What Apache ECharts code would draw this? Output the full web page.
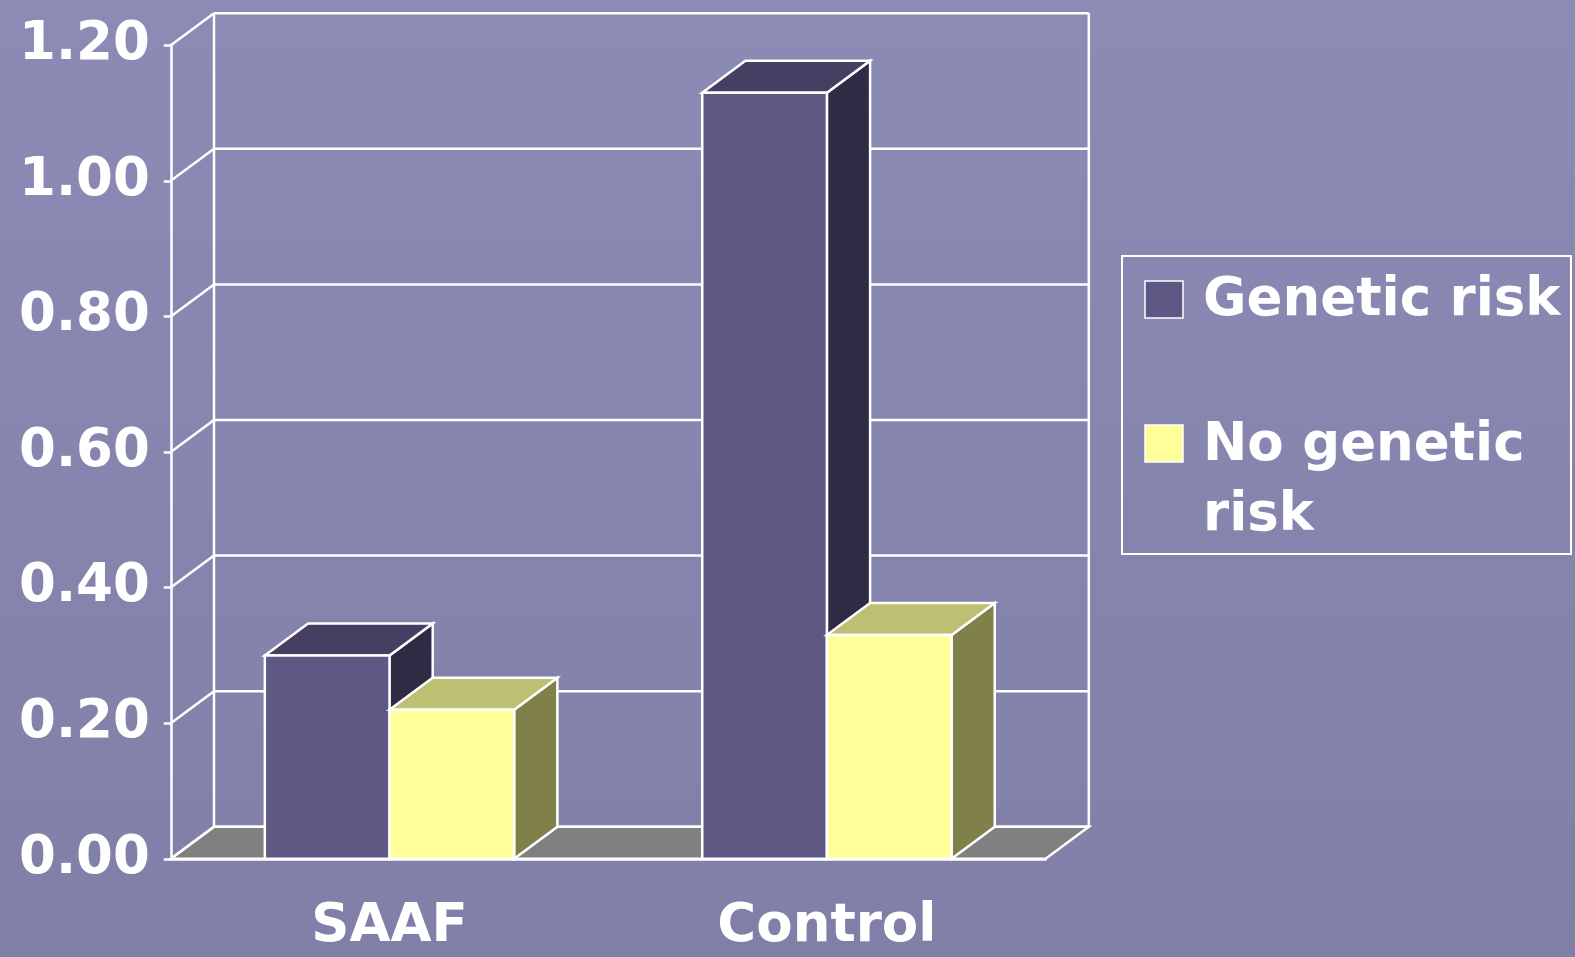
<!DOCTYPE html>
<html>
<head>
<meta charset="utf-8">
<script src="https://cdn.jsdelivr.net/npm/echarts@6/dist/echarts.min.js"></script>
<style>
  html, body { margin: 0; padding: 0; background: #8787b0; }
  #chart { width: 1575px; height: 957px; }
</style>
</head>
<body>
<div id="chart"></div>
<script>
// Categories, series and axis ticks
const categories = ['SAAF', 'Control'];
const seriesNames = ['Genetic risk', 'No genetic\nrisk'];
const geneticRisk = [0.30, 1.13];
const noGeneticRisk = [0.22, 0.33];
const yTicks = [0, 0.2, 0.4, 0.6, 0.8, 1.0, 1.2];

// Pseudo-3D depth of the box (pixels to the right and upward)
const DX = 43.2, DY = 32;
// Bar width as a fraction of a category band
const BAR_FRAC = 0.285;
const FONT = 'DejaVu Sans';

const palettes = [
  { front: '#5e5885', top: '#463f63', side: '#2f2b45' },
  { front: '#ffff99', top: '#bfbf73', side: '#80804a' }
];
const edge = { stroke: '#ffffff', lineWidth: 2.5, lineJoin: 'miter' };

// Back wall, floor and depth lines for every y tick
function frameRenderer(params, api) {
  const cs = params.coordSys;
  const v = api.value(1);
  const y = api.coord([0, v])[1];
  const xl = cs.x, xr = cs.x + cs.width;
  const children = [];
  if (params.dataIndex === 0) {
    const yTop = api.coord([0, yTicks[yTicks.length - 1]])[1];
    children.push({
      type: 'polygon',
      shape: { points: [[xl, y], [xr, y], [xr + DX, y - DY], [xl + DX, y - DY]] },
      style: { fill: '#808080', stroke: '#ffffff', lineWidth: 2.5 }
    });
    children.push({ type: 'line', shape: { x1: xl + DX, y1: yTop - DY, x2: xl + DX, y2: y - DY }, style: edge });
    children.push({ type: 'line', shape: { x1: xr + DX, y1: yTop - DY, x2: xr + DX, y2: y - DY }, style: edge });
  }
  children.push({ type: 'line', shape: { x1: xl, y1: y, x2: xl + DX, y2: y - DY }, style: edge });
  children.push({ type: 'line', shape: { x1: xl + DX, y1: y - DY, x2: xr + DX, y2: y - DY }, style: edge });
  return { type: 'group', children: children };
}

// Box-shaped bar: side face, top face, then front face
function barRenderer(idx) {
  return function (params, api) {
    const cat = api.value(0), val = api.value(1);
    const top = api.coord([cat, val]);
    const base = api.coord([cat, 0]);
    const band = api.size([1, 0])[0];
    const w = band * BAR_FRAC;
    const x0 = idx === 0 ? top[0] - w : top[0];
    const x1 = x0 + w;
    const yT = top[1], yB = base[1];
    const pal = palettes[idx];
    return {
      type: 'group',
      children: [
        { type: 'polygon', shape: { points: [[x1, yB], [x1 + DX, yB - DY], [x1 + DX, yT - DY], [x1, yT]] },
          style: Object.assign({ fill: pal.side }, edge) },
        { type: 'polygon', shape: { points: [[x0, yT], [x1, yT], [x1 + DX, yT - DY], [x0 + DX, yT - DY]] },
          style: Object.assign({ fill: pal.top }, edge) },
        { type: 'rect', shape: { x: x0, y: yT, width: w, height: yB - yT },
          style: Object.assign({ fill: pal.front }, edge) }
      ]
    };
  };
}

// Legend panel
const legendBox = { x: 1122, y: 256, w: 449, h: 298 };
const legendItems = [
  { sx: 1145, sy: 281, tx: 1203, ty: 301 },
  { sx: 1145, sy: 425, tx: 1203, ty: 481 }
];
const legendGraphics = [{
  type: 'rect',
  shape: { x: legendBox.x, y: legendBox.y, width: legendBox.w, height: legendBox.h },
  style: { fill: 'none', stroke: '#ffffff', lineWidth: 2 }
}];
seriesNames.forEach(function (name, i) {
  const it = legendItems[i];
  legendGraphics.push({
    type: 'rect', shape: { x: it.sx, y: it.sy, width: 38, height: 37 },
    style: { fill: palettes[i].front, stroke: '#ffffff', lineWidth: 1.5 }
  });
  legendGraphics.push({
    type: 'text', x: it.tx, y: it.ty,
    style: { text: name, fill: '#ffffff', font: 'bold 53px "' + FONT + '"',
             verticalAlign: 'middle', align: 'left', lineHeight: 70 }
  });
});

const chart = echarts.init(document.getElementById('chart'), null, { renderer: 'canvas' });
chart.setOption({
  backgroundColor: {
    type: 'linear', x: 0, y: 0, x2: 0, y2: 1,
    colorStops: [{ offset: 0, color: '#8b8bb5' }, { offset: 1, color: '#7f7fa8' }]
  },
  animation: false,
  grid: { left: 170.8, top: 45.2, width: 874.8, height: 813.6, outerBoundsMode: 'none' },
  xAxis: {
    type: 'category',
    data: categories,
    axisLine: { lineStyle: { color: '#ffffff', width: 2.5 } },
    axisTick: { length: 13, lineStyle: { color: '#ffffff', width: 2.5 } },
    axisLabel: { color: '#ffffff', fontSize: 53, fontWeight: 'bold', fontFamily: FONT, margin: 42, lineHeight: 53 },
    splitLine: { show: false }
  },
  yAxis: {
    type: 'value',
    min: yTicks[0],
    max: yTicks[yTicks.length - 1],
    interval: 0.2,
    axisLine: { show: true, lineStyle: { color: '#ffffff', width: 2.5 } },
    axisTick: { show: true, length: 7, lineStyle: { color: '#ffffff', width: 2.5 } },
    axisLabel: { color: '#ffffff', fontSize: 53, fontWeight: 'bold', fontFamily: FONT, margin: 21,
                 formatter: function (v) { return v.toFixed(2); } },
    splitLine: { show: false }
  },
  graphic: legendGraphics,
  series: [
    { type: 'custom', name: 'frame', z: 1, clip: false, renderItem: frameRenderer,
      data: yTicks.map(function (v) { return [0, v]; }) },
    { type: 'custom', name: seriesNames[0], z: 2, clip: false, renderItem: barRenderer(0),
      data: geneticRisk.map(function (v, i) { return [i, v]; }) },
    { type: 'custom', name: seriesNames[1], z: 3, clip: false, renderItem: barRenderer(1),
      data: noGeneticRisk.map(function (v, i) { return [i, v]; }) }
  ]
});
</script>
</body>
</html>
